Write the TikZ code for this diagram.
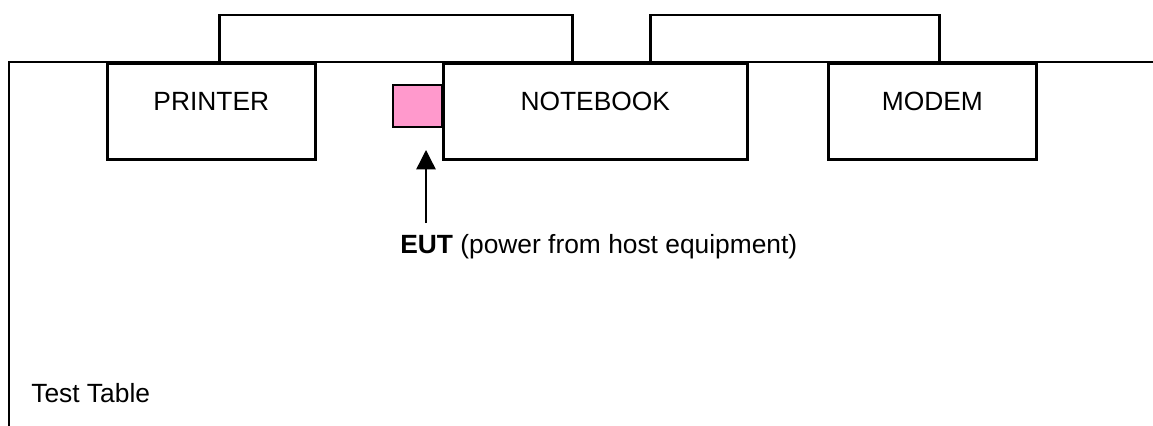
\documentclass[tikz,border=0pt]{standalone}
\usepackage{fontspec}
\setmainfont{Liberation Sans}
\usetikzlibrary{positioning,calc}
\usetikzlibrary{arrows.meta}
\definecolor{EutPink}{RGB}{255,153,204}
\tikzset{
  box/.style={draw=black,line width=1.5pt,fill=white,minimum height=1.92cm,
    text height=0.38cm,text depth=0.4cm,inner sep=0pt},
  eut/.style={draw=black,line width=1.5pt,fill=EutPink,minimum width=0.98cm,minimum height=0.84cm,inner sep=0pt},
}
\tikzset{cable/.style={draw=black,line width=1.5pt}, arr/.style={draw=black,line width=0.8pt,-{Triangle[length=11pt,width=11pt]}},lab/.style={font=\fontsize{15}{18}\selectfont,inner sep=0pt}}

\begin{document}
\begin{tikzpicture}[x=0.02cm,y=-0.02cm]
\useasboundingbox (0,0) rectangle (1153,426);
\coordinate (tabletop) at (1153,62);
\coordinate (tablefoot) at (9,426);
\coordinate (tip) at (426,150);
\draw[cable] (tablefoot) |- (tabletop);
\node[eut] (pad) at (417.5,106) {};
\node[box,lab,minimum width=4.16cm,anchor=north west] (printer) at (106,62) {PRINTER};
\node[box,lab,minimum width=6.08cm,anchor=north west] (notebook) at (442,62) {NOTEBOOK};
\node[box,lab,minimum width=4.16cm,anchor=north west] (modem) at (827,62) {MODEM};
\draw[cable] ([xshift=0.16cm]printer.north) -- ++(0,-47) -| ([xshift=-0.46cm]notebook.north);
\draw[cable] ([xshift=1.1cm]notebook.north) -- ++(0,-47) -| ([xshift=0.14cm]modem.north);
\node[lab,inner ysep=6pt,anchor=base west] (eutlabel) at (400,253) {\textbf{EUT} (power from host equipment)};
\draw[arr] (eutlabel.north -| tip) -- (tip);
\node[lab,anchor=base west] (tablename) at (31,402) {Test Table};
\end{tikzpicture}
\end{document}
